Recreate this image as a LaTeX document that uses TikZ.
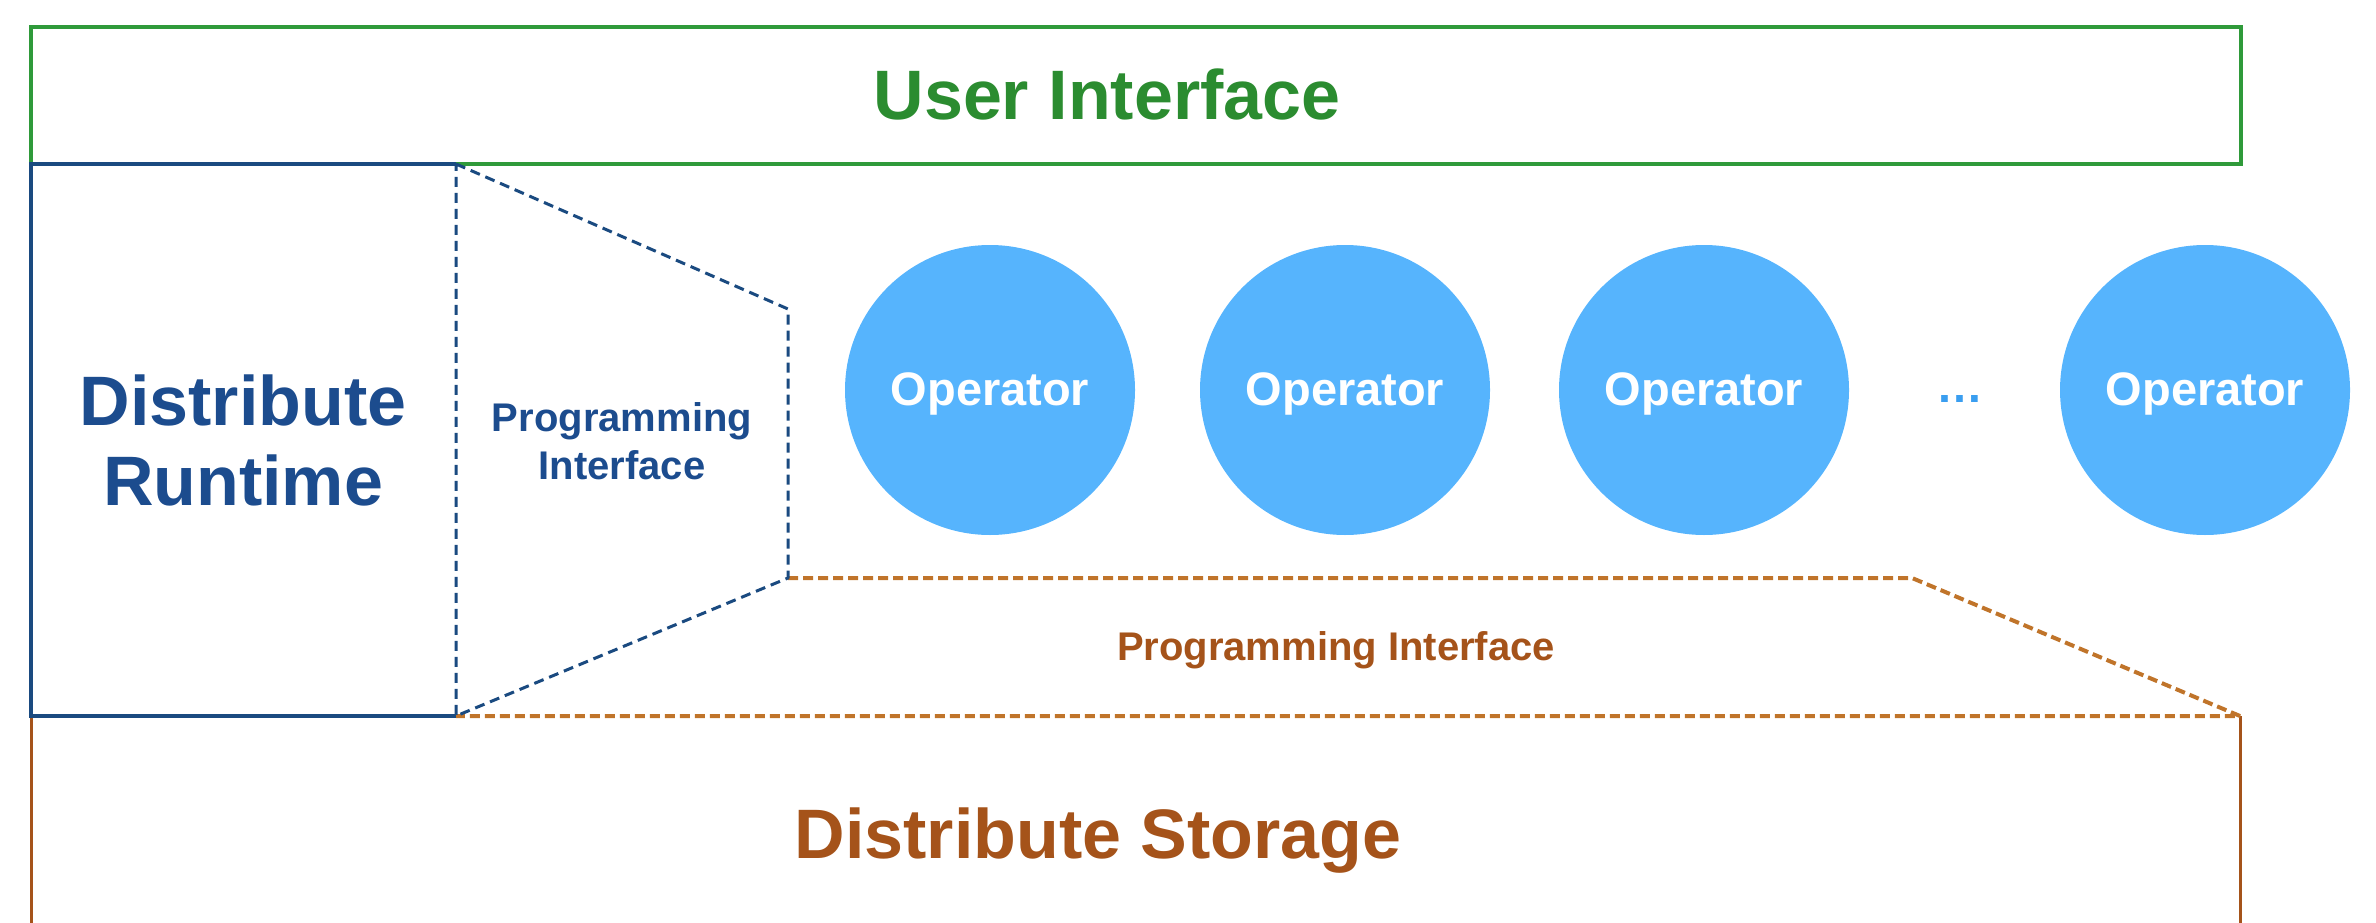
\documentclass[tikz,border=0pt]{standalone}
\usepackage{fontspec}
\setmainfont{Liberation Sans}
\definecolor{uigreen}{HTML}{2B8C30}
\definecolor{uiborder}{HTML}{2F9A3A}
\definecolor{rtblue}{HTML}{1C4C8E}
\definecolor{rtborder}{HTML}{1A4A80}
\definecolor{stbrown}{HTML}{A5531A}
\definecolor{stdash}{HTML}{C0742A}
\definecolor{opblue}{HTML}{56B4FD}
\definecolor{dotblue}{HTML}{3A9EF0}
\tikzset{
  bigtext/.style={font=\fontsize{70}{80}\selectfont\bfseries, inner sep=0pt},
  midtext/.style={font=\fontsize{40}{48}\selectfont\bfseries, inner sep=0pt},
  optext/.style={font=\fontsize{47}{52}\selectfont\bfseries, text=white, text height=34pt, text depth=4pt},
  opcircle/.style={circle, fill=opblue, minimum size=290pt, inner sep=0pt, optext},
  bluedash/.style={draw=rtborder, line width=3pt, dash pattern=on 10pt off 6pt, line join=bevel},
  orangedash/.style={draw=stdash, line width=4pt, dash pattern=on 10pt off 5pt, line join=bevel},
}
\begin{document}
\begin{tikzpicture}[x=1pt,y=-1pt]
\useasboundingbox (0,0) rectangle (2376,923);
% key points
\coordinate (uiTL) at (31,27);
\coordinate (uiBR) at (2241,164);
\coordinate (rtTR) at (456,164);
\coordinate (rtBL) at (31,716);
\coordinate (rtBR) at (456,716);
\coordinate (piTR) at (788,309);
\coordinate (piBR) at (788,578);
\coordinate (spTR) at (1912,578);
\coordinate (stTR) at (2240,716);
\coordinate (stLB) at (31,930);
\coordinate (stRB) at (2240,930);
% user interface
\draw[draw=uiborder, line width=4pt] (uiTL) rectangle (uiBR);
\node[bigtext, text=uigreen, anchor=base] (ui) at (1107,120) {User Interface};
% storage sides
\draw[draw=stbrown, line width=3pt] (rtBL) -- (stLB);
\draw[draw=stbrown, line width=3pt] (stTR) -- (stRB);
% storage programming interface (dashed)
\draw[orangedash] (piBR) -- (spTR) -- (stTR) -- (rtBR);
% runtime box
\draw[draw=rtborder, line width=4pt] (rtBR) -- (rtBL) -- (31,164) -- (rtTR);
% runtime programming interface (dashed)
\draw[bluedash] (rtTR) -- (piTR) -- (piBR) -- (rtBR) -- cycle;
% texts
\node[bigtext, text=rtblue, align=center] (rt) at (243,440) {Distribute\\Runtime};
\node[midtext, text=rtblue, align=center] (rpi) at (622,441.5) {Programming\\Interface};
\node[midtext, text=stbrown, anchor=base] (spi) at (1336,660) {Programming Interface};
\node[bigtext, text=stbrown, anchor=base] (st) at (1098,858) {Distribute Storage};
% operators
\node[opcircle] (op1) at (990,390) {Operator};
\node[opcircle] (op2) at (1345,390) {Operator};
\node[opcircle] (op3) at (1704,390) {Operator};
\node[font=\fontsize{47}{52}\selectfont\bfseries, text=dotblue, anchor=base, inner sep=0pt] (dots) at (1960,402) {…};
\node[opcircle] (op4) at (2205,390) {Operator};
\end{tikzpicture}
\end{document}
